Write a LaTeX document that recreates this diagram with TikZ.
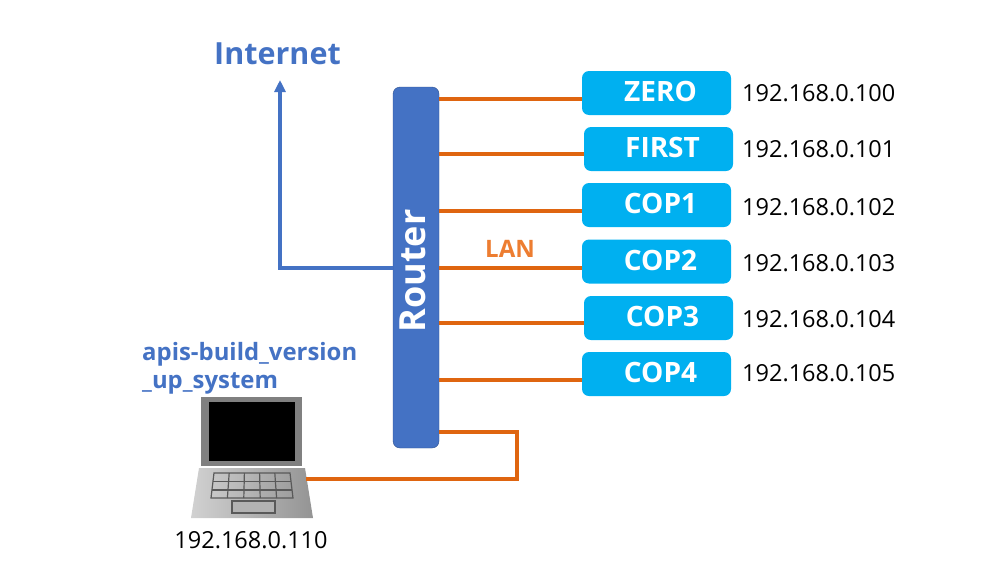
\documentclass[tikz,border=0pt]{standalone}
\usepackage{fontspec}
\setmainfont{Open Sans}
\usetikzlibrary{%
  positioning,
  calc,
  arrows.meta,
}
\definecolor{lanline}{HTML}{DF6510}
\definecolor{lantext}{HTML}{ED7D31}
\definecolor{netblue}{HTML}{4472C4}
\definecolor{netedge}{HTML}{2F528F}
\definecolor{hostfill}{HTML}{00B0F0}

\begin{document}
\begin{tikzpicture}[%
           x=1pt,
           y=-1pt,
           host/.style={
             % The shape:
             rectangle,
             rounded corners=7pt,
             % The size:
             minimum width=149pt,
             minimum height=44pt,
             inner sep=0pt,
             text depth=3pt,
             % The label sits a little right of the middle:
             execute at begin node=\hspace*{8pt},
             % The filling:
             fill=hostfill,
             text=white,
             font=\fontsize{28}{28}\selectfont\bfseries,
           },
           address/.style={
             anchor=west,
             inner sep=0pt,
             font=\fontsize{23.5}{23.5}\selectfont,
           },
           title/.style={
             anchor=west,
             inner sep=0pt,
             text=netblue,
             font=\fontsize{23.9}{23.9}\selectfont\bfseries,
           },
           lan/.style={
             line width=3.6pt,
             color=lanline,
           },
           wan/.style={
             line width=3.6pt,
             color=netblue,
             -{Triangle[length=12pt,width=11pt]},
           }]
         \useasboundingbox (0,0) rectangle (985,568);

         \node[draw=netedge, fill=netblue, rounded corners=7pt, minimum width=46pt, minimum height=361pt, inner sep=0pt] (router) at (416,267.5) {};
         \node[rotate=90, text=white, font=\fontsize{36}{36}\selectfont\bfseries] (routerlabel) at (413,271) {Router};

         \node[host] (zero) at (656.5,93) {ZERO};
         \node[host] (first) at (658.5,149) {FIRST};
         \node[host] (cop1) at (656.5,205) {COP1};
         \node[host] (cop2) at (656.5,261.5) {COP2};
         \node[host] (cop3) at (658.5,318) {COP3};
         \node[host] (cop4) at (656.5,374) {COP4};

         \node[address] (ip0) at (742,93) {192.168.0.100};
         \node[address] (ip1) at (742,149) {192.168.0.101};
         \node[address] (ip2) at (742,207) {192.168.0.102};
         \node[address] (ip3) at (742,263) {192.168.0.103};
         \node[address] (ip4) at (742,319) {192.168.0.104};
         \node[address] (ip5) at (742,373) {192.168.0.105};

         \node[text=netblue, font=\fontsize{30.5}{30.5}\selectfont\bfseries] (internet) at (277.5,54) {Internet};
         \node[text=lantext, font=\fontsize{24}{24}\selectfont\bfseries] (lanlabel) at (510,249) {LAN};
         \node[title] (system1) at (142,354) {apis-build\_version};
         \node[title] (system2) at (142,383) {\_up\_system};
         \node[font=\fontsize{23.5}{23.5}\selectfont, inner sep=0pt] (ip6) at (251,540) {192.168.0.110};

         % The laptop:
         \fill[black!50] (201,397) rectangle (302,466);
         \fill[black] (209,402) rectangle (295,461);
         \shade[left color=black!18, right color=black!42] (199,468) -- (305,468) -- (313,518) -- (191,518) -- cycle;
         \draw[black!65, line width=1.2pt] (214,473) -- (290,473) -- (293,498) -- (211,498) -- cycle;
         \draw[black!65, line width=1.2pt] (212.5,481.5) -- (291,481.5);
         \draw[black!65, line width=1.2pt] (212,490) -- (292,490);
         \foreach \i in {1,...,4} {
           \draw[black!65, line width=1.2pt] ($ (214,473)!\i/5!(290,473) $) -- ($ (211,498)!\i/5!(293,498) $);
         }
         \draw[black!65, fill=black!30, line width=1.2pt] (232,501) rectangle (275,513);

         \coordinate (laptop) at (306,479);
         \coordinate (bend) at (517,432);
         \coordinate (uplink) at (280,80);

         \foreach \name/\level in {zero/99, first/154, cop1/211, cop2/268, cop3/323, cop4/380} {
           \draw[lan] (router.east |- 0,\level) -- (\name.west |- 0,\level);
         }
         \draw[lan] (router.east |- bend) -- (bend) -- (bend |- laptop) -- (laptop);
         \draw[wan] (router.west |- 0,268) -- (uplink |- 0,268) -- (uplink);
       \end{tikzpicture}
\end{document}
